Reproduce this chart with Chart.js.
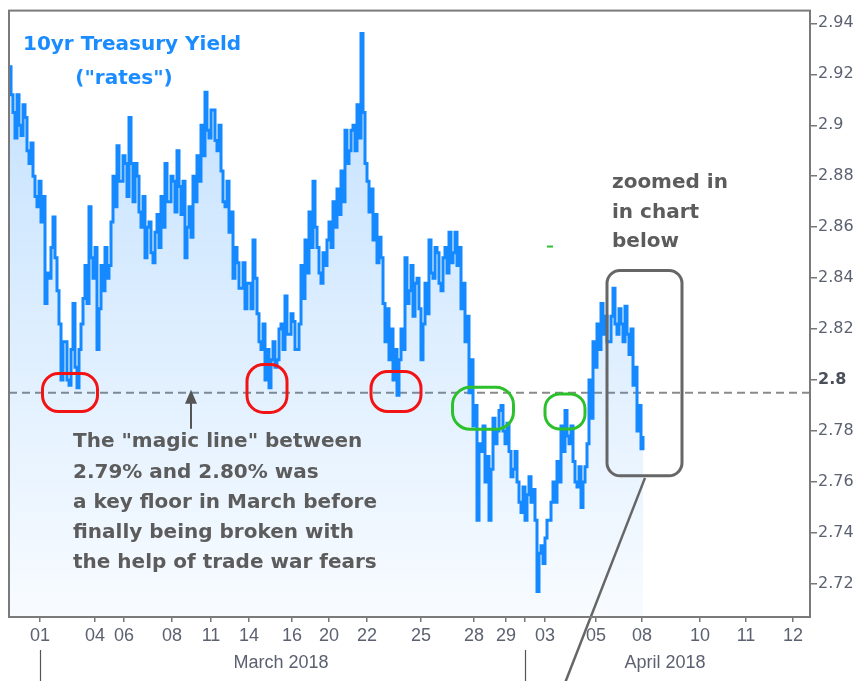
<!DOCTYPE html>
<html>
<head>
<meta charset="utf-8">
<script src="https://cdn.jsdelivr.net/npm/chart.js@4/dist/chart.umd.min.js"></script>
<style>
  html, body { margin: 0; padding: 0; background: #fff; }
  #wrap { width: 863px; height: 681px; position: relative; }
</style>
</head>
<body>
<div id="wrap"><canvas id="yield-chart"></canvas></div>
<script>
// 10yr yield, one sample per bar (index = bar number)
const yields = [
  2.923, 2.905, 2.912, 2.896, 2.903, 2.885, 2.880, 2.868, 2.862, 2.830,
  2.840, 2.864, 2.835, 2.800, 2.815, 2.798, 2.830, 2.797, 2.822, 2.845,
  2.868, 2.840, 2.812, 2.845, 2.852, 2.845, 2.880, 2.892, 2.878, 2.885,
  2.903, 2.870, 2.880, 2.860, 2.848, 2.862, 2.846, 2.865, 2.872, 2.885,
  2.870, 2.878, 2.890, 2.865, 2.848, 2.868, 2.880, 2.888, 2.900, 2.913,
  2.895, 2.906, 2.890, 2.882, 2.868, 2.858, 2.840, 2.846, 2.836, 2.828,
  2.838, 2.855, 2.826, 2.812, 2.800, 2.797, 2.815, 2.808, 2.822, 2.833,
  2.818, 2.823, 2.812, 2.845, 2.855, 2.866, 2.878, 2.852, 2.838, 2.845,
  2.862, 2.870, 2.875, 2.882, 2.898, 2.890, 2.900, 2.908, 2.936, 2.885,
  2.866, 2.855, 2.846, 2.848, 2.815, 2.808, 2.800, 2.794, 2.820, 2.848,
  2.835, 2.825, 2.840, 2.808, 2.838, 2.855, 2.840, 2.850, 2.835, 2.852,
  2.858, 2.850, 2.845, 2.828, 2.815, 2.795, 2.782, 2.745, 2.772, 2.760,
  2.745, 2.785, 2.780, 2.790, 2.775, 2.772, 2.765, 2.760, 2.748, 2.745,
  2.762, 2.757, 2.717, 2.735, 2.738, 2.745, 2.760, 2.768, 2.782, 2.788,
  2.775, 2.768, 2.758, 2.750, 2.766, 2.800, 2.815, 2.822, 2.830, 2.825,
  2.815, 2.836, 2.818, 2.822, 2.829, 2.810, 2.798, 2.780, 2.773
];
// the other extreme reached inside each bar
const swings = [
  2.912, 2.895, 2.900, 2.908, 2.890, 2.893, 2.872, 2.878, 2.872, 2.842,
  2.852, 2.848, 2.822, 2.815, 2.800, 2.812, 2.805, 2.812, 2.832, 2.830,
  2.848, 2.852, 2.828, 2.835, 2.840, 2.862, 2.868, 2.878, 2.888, 2.872,
  2.885, 2.885, 2.866, 2.872, 2.860, 2.850, 2.858, 2.852, 2.860, 2.870,
  2.880, 2.866, 2.876, 2.878, 2.860, 2.856, 2.870, 2.878, 2.888, 2.898,
  2.906, 2.894, 2.900, 2.870, 2.878, 2.866, 2.852, 2.836, 2.846, 2.838,
  2.828, 2.840, 2.815, 2.822, 2.812, 2.808, 2.805, 2.820, 2.812, 2.818,
  2.826, 2.812, 2.822, 2.832, 2.842, 2.852, 2.860, 2.842, 2.850, 2.855,
  2.852, 2.860, 2.865, 2.870, 2.885, 2.898, 2.890, 2.895, 2.905, 2.878,
  2.875, 2.865, 2.856, 2.830, 2.828, 2.820, 2.812, 2.808, 2.812, 2.830,
  2.845, 2.838, 2.828, 2.822, 2.826, 2.842, 2.852, 2.838, 2.848, 2.842,
  2.846, 2.858, 2.852, 2.838, 2.825, 2.808, 2.790, 2.775, 2.782, 2.770,
  2.765, 2.775, 2.788, 2.780, 2.783, 2.762, 2.772, 2.752, 2.758, 2.755,
  2.752, 2.745, 2.732, 2.728, 2.745, 2.752, 2.752, 2.760, 2.772, 2.778,
  2.782, 2.760, 2.766, 2.760, 2.775, 2.785, 2.805, 2.812, 2.818, 2.815,
  2.825, 2.822, 2.828, 2.815, 2.818, 2.820, 2.805, 2.790, 2.778
];

// day ticks (bar index where each day starts)
const dayTickPos = [7.75, 21.5, 28.75, 40.75, 50.5, 60, 70.75, 80, 89.5, 103, 116.25, 124.25, 129, 134, 146.75, 158.25, 172.75, 184.25, 196];
const dayTickLabels = ['01', '04', '06', '08', '11', '14', '16', '20', '22', '25', '28', '29', '', '03', '05', '08', '10', '11', '12'];
const monthLabels = ['March 2018', 'April 2018'];
const monthCenters = [68, 164];
const monthStarts = [7.75, 129];
const yTicks = [2.72, 2.74, 2.76, 2.78, 2.80, 2.82, 2.84, 2.86, 2.88, 2.90, 2.92, 2.94];
const magicLine = 2.795;

const annotationText = [
  'The "magic line" between',
  '2.79% and 2.80% was',
  'a key floor in March before',
  'finally being broken with',
  'the help of trade war fears'
];

// rings around the tests of the floor: [index, yield, width px, height px, colour]
const rings = [
  [15.25, 2.7951, 55, 38, '#f21414'],
  [64.5, 2.7967, 40, 48, '#f21414'],
  [96.75, 2.7955, 50, 40, '#f21414'],
  [118.5, 2.7889, 61, 42, '#2cc02c'],
  [139, 2.7877, 40, 35, '#2cc02c']
];

const FONT = "'DejaVu Sans', Verdana, sans-serif";
const NARROW = "'Liberation Sans Narrow', 'Liberation Sans', Arial, sans-serif";

const isFloor = (c) => !!(c && c.tick && Math.abs(c.tick.value - 2.8) < 1e-6);

const canvas = document.getElementById('yield-chart');

const overlay = {
  id: 'overlay',
  beforeDatasetsDraw(chart) {
    const { ctx, chartArea: a, scales: { y } } = chart;
    const yy = y.getPixelForValue(magicLine);
    ctx.save();
    ctx.strokeStyle = '#8a8a8a';
    ctx.lineWidth = 2;
    ctx.setLineDash([8, 5]);
    ctx.beginPath();
    ctx.moveTo(a.left, yy);
    ctx.lineTo(a.right, yy);
    ctx.stroke();
    ctx.restore();
  },
  afterDatasetsDraw(chart) {
    const { ctx, chartArea: a, scales: { x, y } } = chart;
    ctx.save();

    // rings
    ctx.lineWidth = 3;
    rings.forEach(([i, v, w, h, c]) => {
      const cx = x.getPixelForValue(i), cy = y.getPixelForValue(v);
      ctx.strokeStyle = c;
      ctx.beginPath();
      ctx.roundRect(cx - w / 2, cy - h / 2, w, h, Math.min(w, h) * 0.42);
      ctx.stroke();
    });

    // zoom box + pointer line
    const bx0 = x.getPixelForValue(149.5), bx1 = x.getPixelForValue(168.25);
    const by0 = y.getPixelForValue(2.843), by1 = y.getPixelForValue(2.7624);
    ctx.strokeStyle = '#666';
    ctx.lineWidth = 3;
    ctx.beginPath();
    ctx.roundRect(bx0, by0, bx1 - bx0, by1 - by0, 13);
    ctx.stroke();
    const px0 = x.getPixelForValue(159);
    ctx.lineWidth = 2.5;
    ctx.beginPath();
    ctx.moveTo(px0, by1 + 2);
    ctx.lineTo(px0 - 80, chart.height + 2);
    ctx.stroke();

    // small green tick
    ctx.strokeStyle = '#2cc02c';
    ctx.lineWidth = 2;
    const gx = x.getPixelForValue(135.25), gy = y.getPixelForValue(2.8524);
    ctx.beginPath();
    ctx.moveTo(gx - 3, gy);
    ctx.lineTo(gx + 3, gy);
    ctx.stroke();

    // arrow up to the magic line
    const ax = x.getPixelForValue(45.5), ay = y.getPixelForValue(magicLine);
    ctx.fillStyle = '#555';
    ctx.strokeStyle = '#555';
    ctx.lineWidth = 2;
    ctx.beginPath();
    ctx.moveTo(ax, ay + 8);
    ctx.lineTo(ax, ay + 36);
    ctx.stroke();
    ctx.beginPath();
    ctx.moveTo(ax, ay - 3);
    ctx.lineTo(ax - 6, ay + 11);
    ctx.lineTo(ax + 6, ay + 11);
    ctx.closePath();
    ctx.fill();

    // texts
    ctx.textBaseline = 'middle';
    ctx.fillStyle = '#1a8cff';
    ctx.font = 'bold 20px ' + FONT;
    ctx.textAlign = 'left';
    ctx.fillText('10yr Treasury Yield', a.left + 14, 45);
    ctx.textAlign = 'center';
    ctx.fillText('("rates")', a.left + 115, 79);

    ctx.textAlign = 'left';
    ctx.fillStyle = '#5c5c5c';
    ctx.font = 'bold 20px ' + FONT;
    ['zoomed in', 'in chart', 'below'].forEach((t, k) => ctx.fillText(t, 612, 183 + k * 29.5));
    annotationText.forEach((t, k) => ctx.fillText(t, 73, 442 + k * 30.3));

    ctx.restore();
  },
  afterDraw(chart) {
    const { ctx, chartArea: a, scales: { x } } = chart;
    ctx.save();
    ctx.strokeStyle = '#7a7a7a';
    ctx.lineWidth = 2;
    ctx.strokeRect(a.left, a.top, a.right - a.left, a.bottom - a.top);

    ctx.fillStyle = '#5b6170';
    ctx.font = '18px ' + NARROW;
    ctx.textAlign = 'center';
    ctx.textBaseline = 'middle';
    monthLabels.forEach((m, k) => ctx.fillText(m, x.getPixelForValue(monthCenters[k]), 663));
    ctx.strokeStyle = '#555';
    ctx.lineWidth = 1.2;
    monthStarts.forEach(v => {
      const px = Math.round(x.getPixelForValue(v)) + 0.5;
      ctx.beginPath();
      ctx.moveTo(px, 650);
      ctx.lineTo(px, 681);
      ctx.stroke();
    });
    ctx.restore();
  }
};

new Chart(canvas, {
  type: 'line',
  data: {
    datasets: [{
      label: '10yr Treasury Yield',
      data: yields.flatMap((v, i) => [{ x: i, y: v }, { x: i + 0.5, y: swings[i] }]),
      borderColor: '#1589ff',
      borderWidth: 3,
      stepped: true,
      pointRadius: 0,
      fill: 'start',
      backgroundColor: (ctx) => {
        const a = ctx.chart.chartArea;
        if (!a) return 'rgba(21,137,255,0.15)';
        const g = ctx.chart.ctx.createLinearGradient(0, a.top, 0, a.bottom);
        g.addColorStop(0, 'rgba(21,137,255,0.27)');
        g.addColorStop(1, 'rgba(21,137,255,0.03)');
        return g;
      }
    }]
  },
  options: {
    responsive: true,
    maintainAspectRatio: false,
    animation: false,
    layout: { padding: { left: 9, top: 6, right: 0, bottom: 0 } },
    plugins: { legend: { display: false }, tooltip: { enabled: false } },
    scales: {
      x: {
        type: 'linear',
        min: 0,
        max: 200.25,
        afterBuildTicks: (s) => { s.ticks = dayTickPos.map(v => ({ value: v })); },
        afterFit: (s) => { s.height = 64; },
        grid: { drawOnChartArea: false, tickLength: 5, color: '#777', lineWidth: 1.5 },
        border: { display: true, color: '#7a7a7a', width: 2 },
        ticks: {
          autoSkip: false,
          maxRotation: 0,
          padding: 3,
          color: '#5b6170',
          font: { family: NARROW, size: 18 },
          callback: (v) => dayTickLabels[dayTickPos.indexOf(v)]
        }
      },
      y: {
        position: 'right',
        min: 2.707,
        max: 2.945,
        afterBuildTicks: (s) => { s.ticks = yTicks.map(v => ({ value: v })); },
        afterFit: (s) => { s.width = 53; },
        grid: { drawOnChartArea: false, tickLength: 7, color: '#777', lineWidth: 1.5 },
        border: { display: true, color: '#7a7a7a', width: 2 },
        ticks: {
          padding: 1,
          color: (c) => isFloor(c) ? '#4a4f5a' : '#5b6170',
          font: (c) => ({ family: FONT, size: 16, weight: isFloor(c) ? 'bold' : 'normal' }),
          callback: (v) => String(Number(v.toFixed(2)))
        }
      }
    }
  },
  plugins: [overlay]
});
</script>
</body>
</html>
